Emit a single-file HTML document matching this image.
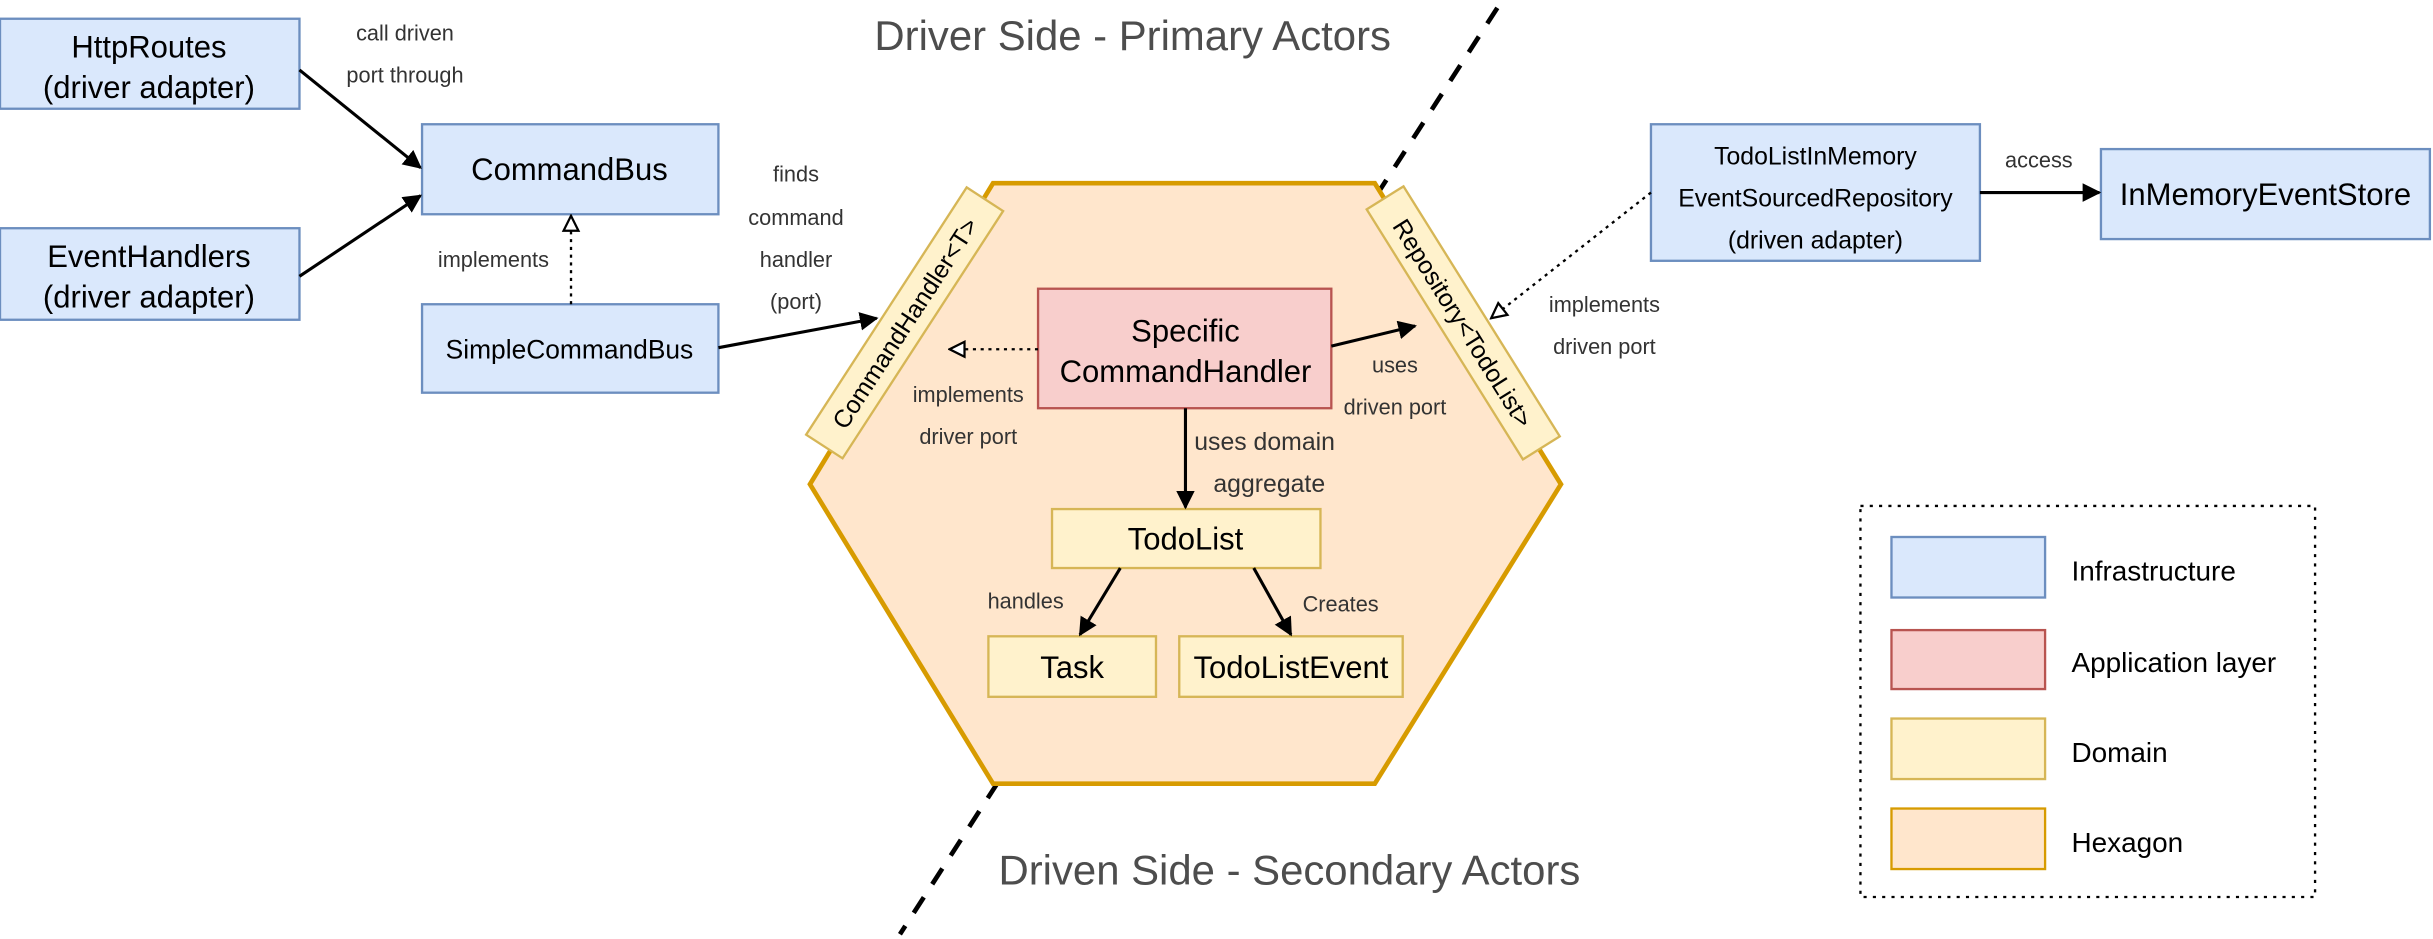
<!DOCTYPE html>
<html><head><meta charset="utf-8"><style>
html,body{margin:0;padding:0;background:#fff;}
svg{display:block;}
text{font-family:"Liberation Sans",sans-serif;}
</style></head><body>
<svg width="2433" height="939" viewBox="0 0 1568 605" xmlns="http://www.w3.org/2000/svg">
<defs>
<marker id="ab" viewBox="0 0 10 10" refX="9" refY="5" markerWidth="12" markerHeight="12" markerUnits="userSpaceOnUse" orient="auto"><path d="M0,0 L10,5 L0,10 z" fill="#000"/></marker>
<marker id="h" viewBox="0 0 10 10" refX="9" refY="5" markerWidth="12" markerHeight="12" markerUnits="userSpaceOnUse" orient="auto"><path d="M1,1 L9,5 L1,9 z" fill="#fff" stroke="#000" stroke-width="1.2"/></marker>
</defs>
<rect width="1568" height="605" fill="#fff"/>
<line x1="965" y1="5" x2="580" y2="602" stroke="#000" stroke-width="3" stroke-dasharray="12,10"/>
<polygon points="522,312 640,118 886,118 1006,312 886,505 640,505" fill="#ffe6cc" stroke="#d79b00" stroke-width="3"/>
<text x="730" y="32" font-size="27" fill="#4d4d4d" text-anchor="middle">Driver Side - Primary Actors</text>
<text x="831" y="570" font-size="27" fill="#4d4d4d" text-anchor="middle">Driven Side - Secondary Actors</text>

<g stroke="#6c8ebf" stroke-width="1.5" fill="#dae8fc">
<rect x="0" y="12" width="193" height="58"/>
<rect x="0" y="147" width="193" height="59"/>
<rect x="272" y="80" width="191" height="58"/>
<rect x="272" y="196" width="191" height="57"/>
<rect x="1064" y="80" width="212" height="88"/>
<rect x="1354" y="96" width="212" height="58"/>
</g>
<g font-size="20" text-anchor="middle" fill="#000">
<text x="96" y="37">HttpRoutes</text><text x="96" y="63">(driver adapter)</text>
<text x="96" y="172">EventHandlers</text><text x="96" y="198">(driver adapter)</text>
<text x="367" y="116">CommandBus</text>
<text x="1460" y="132">InMemoryEventStore</text>
</g>
<text x="367" y="231" font-size="17" text-anchor="middle">SimpleCommandBus</text>
<g font-size="16" text-anchor="middle">
<text x="1170" y="106">TodoListInMemory</text>
<text x="1170" y="133">EventSourcedRepository</text>
<text x="1170" y="160">(driven adapter)</text>
</g>

<g transform="translate(583,208) rotate(-57)">
<rect x="-95" y="-14" width="190" height="28" fill="#fff2cc" stroke="#d6b656" stroke-width="1.5"/>
<text x="0" y="6" font-size="16" text-anchor="middle">CommandHandler&lt;T&gt;</text>
</g>
<g transform="translate(943,208) rotate(58)">
<rect x="-95" y="-14" width="190" height="28" fill="#fff2cc" stroke="#d6b656" stroke-width="1.5"/>
<text x="0" y="6" font-size="16" text-anchor="middle">Repository&lt;TodoList&gt;</text>
</g>

<rect x="669" y="186" width="189" height="77" fill="#f8cecc" stroke="#b85450" stroke-width="1.5"/>
<text x="764" y="220" font-size="20" text-anchor="middle">Specific</text>
<text x="764" y="246" font-size="20" text-anchor="middle">CommandHandler</text>

<g fill="#fff2cc" stroke="#d6b656" stroke-width="1.5">
<rect x="678" y="328" width="173" height="38"/>
<rect x="637" y="410" width="108" height="39"/>
<rect x="760" y="410" width="144" height="39"/>
</g>
<g font-size="20" text-anchor="middle">
<text x="764" y="354">TodoList</text>
<text x="691" y="437">Task</text>
<text x="832" y="437">TodoListEvent</text>
</g>

<g stroke="#000" stroke-width="2" fill="none">
<line x1="193" y1="45" x2="271" y2="108" marker-end="url(#ab)"/>
<line x1="193" y1="178" x2="271" y2="126" marker-end="url(#ab)"/>
<line x1="463" y1="224" x2="565" y2="205" marker-end="url(#ab)"/>
<line x1="858" y1="223" x2="912" y2="210" marker-end="url(#ab)"/>
<line x1="764" y1="263" x2="764" y2="327" marker-end="url(#ab)"/>
<line x1="722" y1="366" x2="696" y2="409" marker-end="url(#ab)"/>
<line x1="808" y1="366" x2="832" y2="409" marker-end="url(#ab)"/>
<line x1="1276" y1="124" x2="1353" y2="124" marker-end="url(#ab)"/>
</g>
<g stroke="#000" stroke-width="1.5" fill="none" stroke-dasharray="2,3">
<line x1="368" y1="196" x2="368" y2="139" marker-end="url(#h)"/>
<line x1="669" y1="225" x2="612" y2="225" marker-end="url(#h)"/>
<line x1="1064" y1="124" x2="961" y2="205" marker-end="url(#h)"/>
</g>

<g font-size="14" fill="#333" text-anchor="middle">
<text x="261" y="26">call driven</text><text x="261" y="53">port through</text>
<text x="513" y="117">finds</text><text x="513" y="145">command</text><text x="513" y="172">handler</text><text x="513" y="199">(port)</text>
<text x="318" y="172">implements</text>
<text x="624" y="259">implements</text><text x="624" y="286">driver port</text>
<text x="899" y="240">uses</text><text x="899" y="267">driven port</text>
<text x="1314" y="108">access</text>
<text x="1034" y="201">implements</text><text x="1034" y="228">driven port</text>
<text x="661" y="392">handles</text><text x="864" y="394">Creates</text>
</g>
<g font-size="16" fill="#333" text-anchor="middle">
<text x="815" y="290">uses domain</text><text x="818" y="317">aggregate</text>
</g>

<rect x="1199" y="326" width="293" height="252" fill="none" stroke="#000" stroke-width="1.5" stroke-dasharray="2,4"/>
<rect x="1219" y="346" width="99" height="39" fill="#dae8fc" stroke="#6c8ebf" stroke-width="1.5"/>
<rect x="1219" y="406" width="99" height="38" fill="#f8cecc" stroke="#b85450" stroke-width="1.5"/>
<rect x="1219" y="463" width="99" height="39" fill="#fff2cc" stroke="#d6b656" stroke-width="1.5"/>
<rect x="1219" y="521" width="99" height="39" fill="#ffe6cc" stroke="#d79b00" stroke-width="1.5"/>
<g font-size="18">
<text x="1335" y="374">Infrastructure</text>
<text x="1335" y="433">Application layer</text>
<text x="1335" y="491">Domain</text>
<text x="1335" y="549">Hexagon</text>
</g>
</svg>
</body></html>
